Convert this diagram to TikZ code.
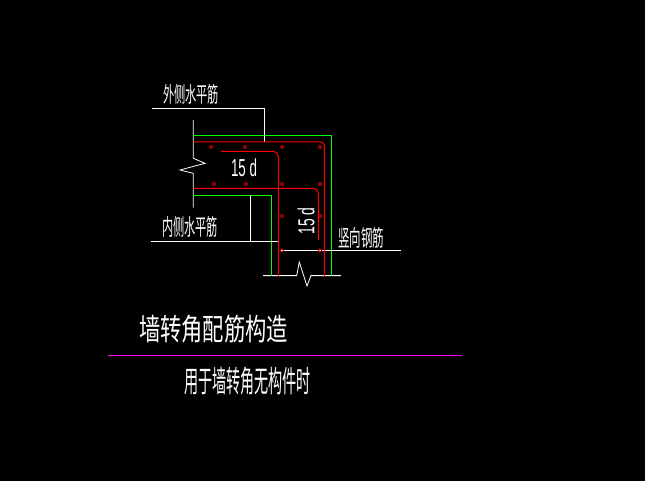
\documentclass[tikz,border=0pt]{standalone}
\usepackage{fontspec}
\setmainfont{Liberation Sans}
\newfontfamily\cjk{Noto Sans CJK SC}
\definecolor{cadgreen}{RGB}{0,255,0}
\definecolor{cadred}{RGB}{255,0,0}
\definecolor{cadmag}{RGB}{255,0,255}
\newcommand{\fitcjk}[3]{\resizebox*{#1pt}{#2pt}{\cjk #3}}
\newcommand{\fitlat}[3]{\resizebox*{#1pt}{#2pt}{#3}}
\tikzset{
  wline/.style={draw=white,line width=0.8pt},
  gline/.style={draw=cadgreen,line width=0.9pt},
  rline/.style={draw=cadred,line width=1pt,rounded corners=5pt},
  dotbar/.style={draw=cadred,line width=0.7pt,circle,minimum size=3.4pt,inner sep=0pt},
  lbl/.style={text=white,inner sep=0pt,outer sep=0pt,anchor=center}
}
\begin{document}
\begin{tikzpicture}[x=1pt,y=-1pt]
\useasboundingbox[fill=black] (0,0) rectangle (645,481);
% wall outline and breaks
\draw[wline] (193.3,120) -- (193.3,158.3) -- (205,163.3) -- (180,170) -- (193.3,173.3) -- (193.3,207.7);
\draw[wline] (263,275.6) -- (296.7,275.6) -- (299.3,262) -- (307,286) -- (311,275.6) -- (341,275.6);
% green outlines
\draw[gline] (193.3,135) -- (331,135) -- (331,275.6);
\draw[gline] (193.3,195.3) -- (271.3,195.3) -- (271.3,275.6);
% leaders
\draw[wline] (152,108.3) -- (264.3,108.3) -- (264.3,142);
\draw[wline] (151,241) -- (278,241);
\draw[wline] (250.3,195.3) -- (250.3,241);
\draw[wline] (280,250.5) -- (400.7,250.5);
% red bars
\draw[rline,rounded corners=3.5pt] (193.3,142) -- (324.3,142) -- (324.3,276);
\draw[rline] (221,151.3) -- (278.3,151.3) -- (278.3,276);
\draw[rline] (193.3,188.3) -- (318.3,188.3) -- (318.3,240);
% dots
\foreach \nm/\px/\py in {a/211/147,b/245/147,c/282/147,d/320/147,
  e/214/184,f/246/184,g/282/184,h/320/184,i/282/216,j/320/216,k/282/250.5,l/320/250.5}
  \node[dotbar] (dot\nm) at (\px,\py) {};
% labels
\node[lbl] (outerlbl) at (191,94.5) {\fitcjk{56}{20}{外侧水平筋}};
\node[lbl] (innerlbl) at (190,227) {\fitcjk{56}{21}{内侧水平筋}};
\node[lbl] (vertlbl) at (361,237.5) {\fitcjk{46}{21}{竖向钢筋}};
\node[lbl] (wid) at (244,168) {\fitlat{26}{18}{15 d}};
\node[lbl,rotate=90] (len) at (306,221) {\fitlat{27}{17}{15 d}};
\node[lbl] (title) at (213.5,329) {\fitcjk{149}{28}{墙转角配筋构造}};
\draw[draw=cadmag,line width=0.8pt] (108,355.3) -- (462,355.3);
\node[lbl] (subtitle) at (247.5,381) {\fitcjk{127}{28}{用于墙转角无构件时}};
\end{tikzpicture}
\end{document}
